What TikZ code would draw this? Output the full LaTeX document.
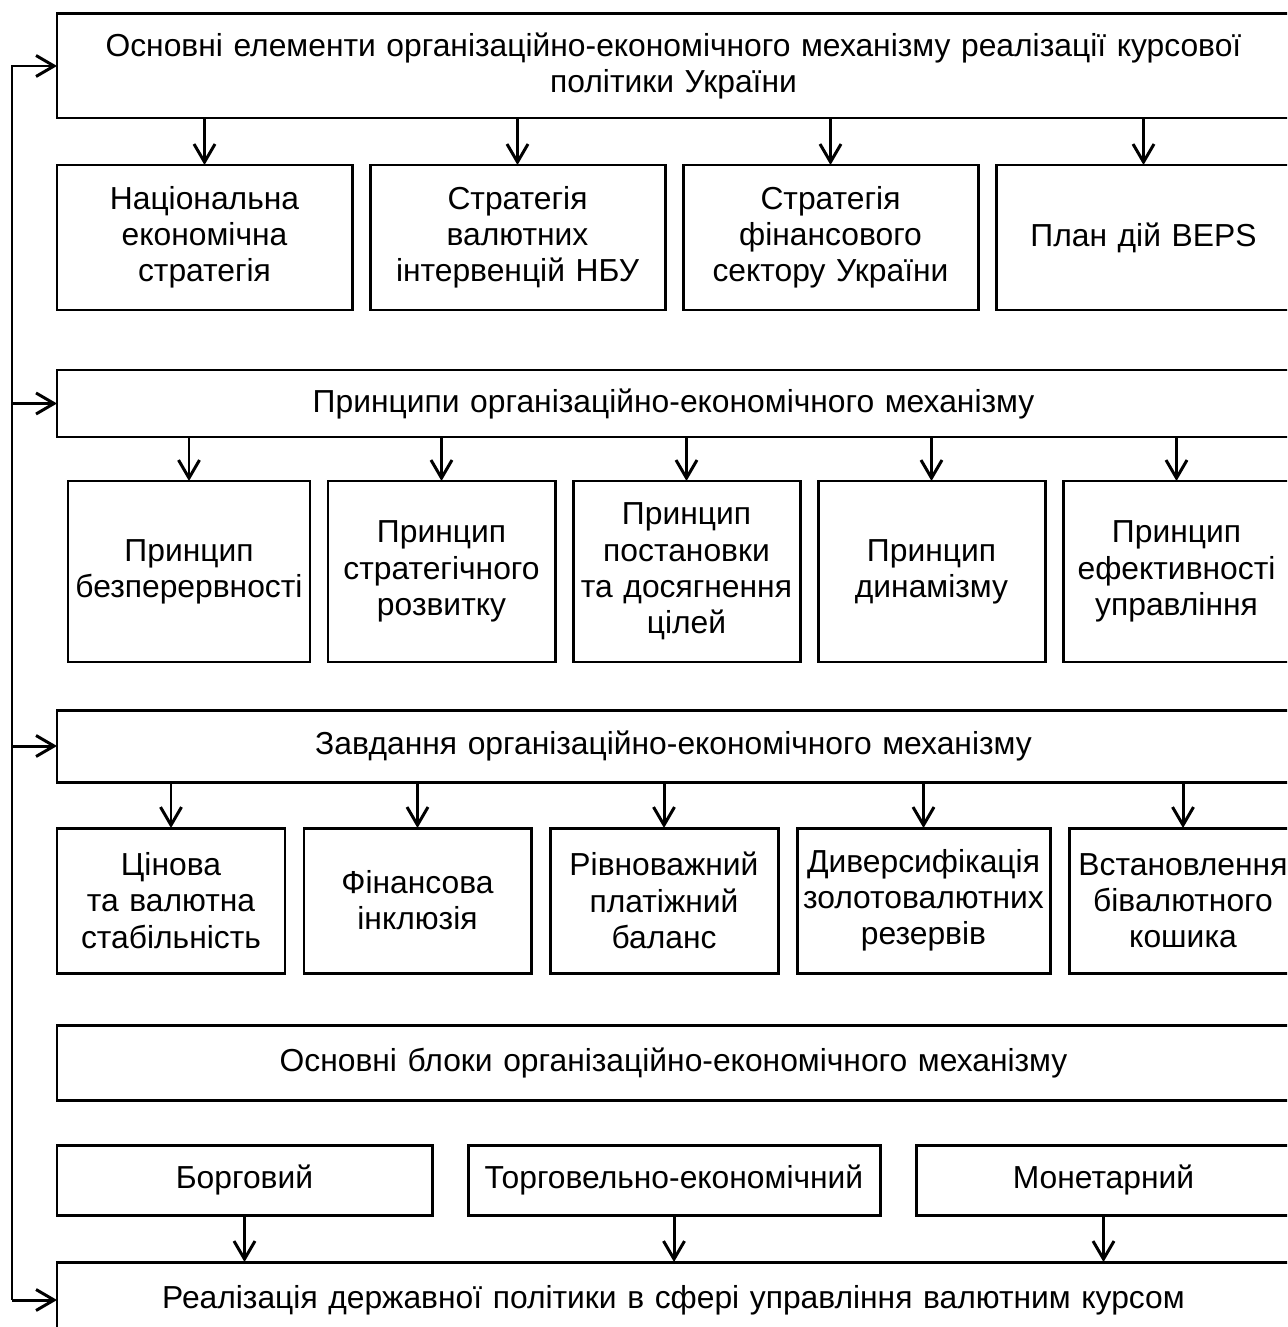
\documentclass[tikz,border=0pt]{standalone}
\usepackage{fontspec}
\setmainfont{Liberation Sans}
\usepackage{tikz}
\usetikzlibrary{arrows.meta,positioning}

\begin{document}
\begin{tikzpicture}[
  node distance=3.6mm and 3.6mm,
  every node/.style={font=\fontsize{18.1pt}{20.6pt}\selectfont},
  box/.style={draw, line width=1.7pt, align=center, inner sep=0pt, outer sep=0pt, anchor=north west},
  header/.style={box, text width=24.66cm},
  arrow/.style={-{Straight Barb[length=3.6mm,width=4.2mm]}, line width=1.7pt}
]
\useasboundingbox (0,0) rectangle (25.74,-26.54);
\clip (0,0) rectangle (25.74,-26.54);

% main element block
\node[header, minimum height=2.08cm] (top) at (1.14,-0.28)
  {Основні елементи організаційно-економічного механізму реалізації курсової\\політики України};
\node[box, text width=5.9cm, minimum height=2.9cm] (nes) at (1.14,-3.30) {Національна\\економічна\\стратегія};
\node[box, text width=5.9cm, minimum height=2.9cm, right=of nes] (nbu) {Стратегія\\валютних\\інтервенцій НБУ};
\node[box, text width=5.9cm, minimum height=2.9cm, right=of nbu] (fin) {Стратегія\\фінансового\\сектору України};
\node[box, text width=5.9cm, minimum height=2.9cm, right=of fin] (beps) {План дій BEPS};
\foreach \x in {nes,nbu,fin,beps} {\draw[arrow] (top.south -| \x.north) -- (\x.north);}

% principles
\node[header, minimum height=1.34cm] (prin) at (1.14,-7.40) {Принципи організаційно-економічного механізму};
\node[box, text width=4.84cm, minimum height=3.62cm] (p1) at (1.36,-9.62) {Принцип\\безперервності};
\node[box, text width=4.54cm, minimum height=3.62cm, right=of p1] (p2) {Принцип\\стратегічного\\розвитку};
\node[box, text width=4.54cm, minimum height=3.62cm, right=of p2] (p3) {Принцип\\постановки\\та досягнення\\цілей};
\node[box, text width=4.54cm, minimum height=3.62cm, right=of p3] (p4) {Принцип\\динамізму};
\node[box, text width=4.54cm, minimum height=3.62cm, right=of p4] (p5) {Принцип\\ефективності\\управління};
\foreach \x in {p1,p2,p3,p4,p5} {\draw[arrow] (prin.south -| \x.north) -- (\x.north);}

% tasks
\node[header, minimum height=1.44cm] (task) at (1.14,-14.20) {Завдання організаційно-економічного механізму};
\node[box, text width=4.56cm, minimum height=2.9cm] (t1) at (1.14,-16.56) {Цінова\\та валютна\\стабільність};
\node[box, text width=4.54cm, minimum height=2.9cm, right=3.8mm of t1] (t2) {Фінансова\\інклюзія};
\node[box, text width=4.56cm, minimum height=2.9cm, right=3.8mm of t2] (t3) {Рівноважний\\платіжний\\баланс};
\node[box, text width=5.06cm, minimum height=2.9cm, right=3.8mm of t3] (t4) {Диверсифікація\\золотовалютних\\резервів};
\node[box, text width=4.56cm, minimum height=2.9cm, right=3.8mm of t4] (t5) {Встановлення\\бівалютного\\кошика};
\foreach \x in {t1,t2,t3,t4,t5} {\draw[arrow] (task.south -| \x.north) -- (\x.north);}

% blocks
\node[header, minimum height=1.5cm] (blocks) at (1.14,-20.50) {Основні блоки організаційно-економічного механізму};
\node[box, text width=7.5cm, minimum height=1.4cm] (debt) at (1.14,-22.90) {Борговий};
\node[box, text width=8.24cm, minimum height=1.4cm, right=7.2mm of debt] (trade) {Торговельно-економічний};
\node[box, text width=7.5cm, minimum height=1.4cm, right=7.2mm of trade] (monet) {Монетарний};

\node[header, minimum height=1.52cm] (impl) at (1.14,-25.24) {Реалізація державної політики в сфері управління валютним курсом};
\foreach \x in {debt,trade,monet} {\draw[arrow] (\x.south) -- (impl.north -| \x.south);}

% feedback line
\coordinate (fb) at (0.24,0);
\draw[arrow] (fb |- impl.west) |- (top.west);
\foreach \x in {prin,task,impl} {\draw[arrow] (fb |- \x.west) -- (\x.west);}
\end{tikzpicture}
\end{document}
